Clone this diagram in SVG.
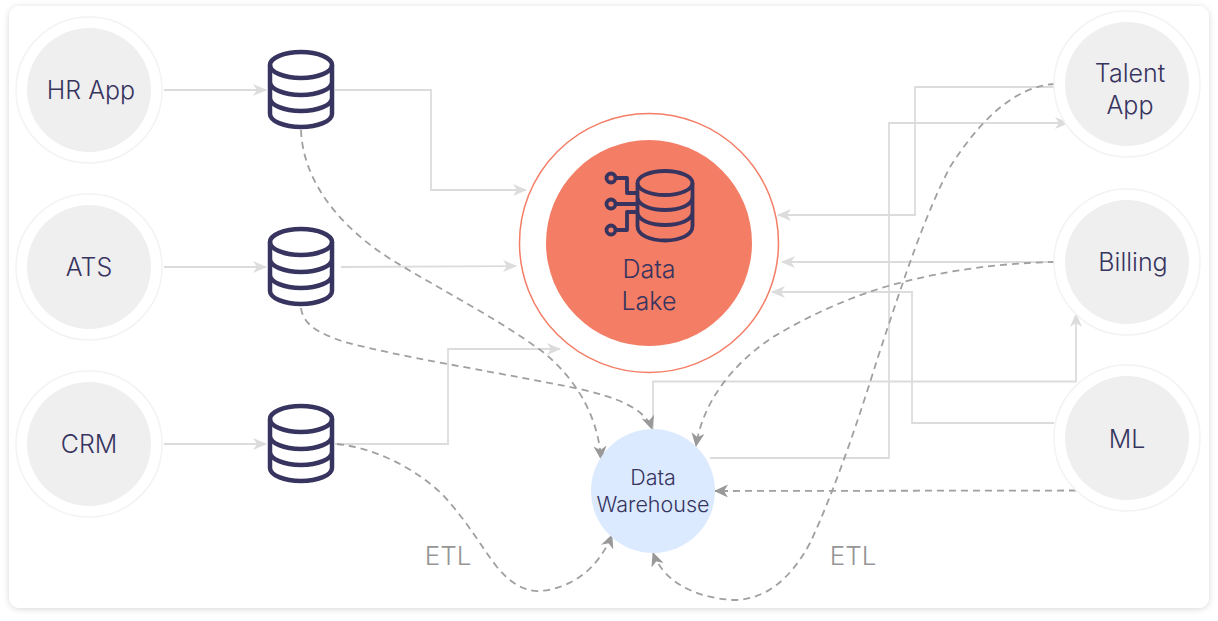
<svg xmlns="http://www.w3.org/2000/svg" xmlns:xlink="http://www.w3.org/1999/xlink" width="1218" height="621" viewBox="0 0 1218 621">
<style>
text{font-family:"Inter","Noto Sans",sans-serif;font-weight:300;fill:#37345f;text-anchor:middle}
.lab{font-size:25px}
.solid{fill:none;stroke:#dcdcdc;stroke-width:1.800;marker-end:url(#ah)}
.dash{fill:none;stroke:#a0a0a0;stroke-width:1.800;stroke-dasharray:7 5;marker-end:url(#dh)}
.outer{fill:#fff;stroke:#f3f3f3;stroke-width:1.500}
.inner{fill:#efefef}
.ic{fill:none;stroke:#37345f;stroke-width:4.500}
.etl{font-size:26px;fill:#969696}
</style>
<defs>
<filter id="sh" x="-3%" y="-3%" width="106%" height="108%"><feDropShadow dx="0" dy="1" stdDeviation="3" flood-color="#000" flood-opacity="0.16"/></filter>
<marker id="ah" viewBox="0 0 14 12" refX="13" refY="6" markerWidth="14" markerHeight="12" markerUnits="userSpaceOnUse" orient="auto"><path d="M0 0L14 6L0 12L4 6Z" fill="#dcdcdc"/></marker>
<marker id="dh" viewBox="0 0 14 13" refX="13" refY="6.500" markerWidth="14" markerHeight="13" markerUnits="userSpaceOnUse" orient="auto"><path d="M0 0L14 6.500L0 13L4 6.500Z" fill="#999"/></marker>
<g id="db"><ellipse cx="0" cy="-25" rx="31" ry="13"/><path d="M-31 -25V24C-31 31 -17 37 0 37S31 31 31 24V-25M-31 -8C-31 -1 -17 5 0 5S31 -1 31 -8M-31 8C-31 15 -17 21 0 21S31 15 31 8"/></g>
</defs>
<rect x="9" y="6" width="1200" height="602" rx="11" fill="#fff" filter="url(#sh)"/>
<g id="connectors">
<path class="solid" d="M164 90H266"/>
<path class="solid" d="M164 267H266"/>
<path class="solid" d="M164 444H266"/>
<path class="solid" d="M335 90H431V190H526"/>
<path class="solid" d="M341 267L516 266"/>
<path class="solid" d="M335 444H448V349H560"/>
<path class="solid" d="M1056 87H915V215H778"/>
<path class="solid" d="M1056 262H782"/>
<path class="solid" d="M1054 423H912V292H772"/>
<path class="solid" d="M710 458H889V123H1068"/>
<path class="solid" d="M653 429V381.500H1076V314"/>
<path class="dash" d="M301 130C303 185 345 232 397 263C445 292 500 320 543 352C575 378 598 415 601 459"/>
<path class="dash" d="M301 308C303 325 320 334 345 342C400 357 480 369 580 389C615 397 645 408 652 429"/>
<path class="dash" d="M337 444C375 448 415 468 443 495C470 525 480 545 497 567C510 583 525 592 540 591C575 588 600 565 612 535"/>
<path class="dash" d="M1055 84C1015 86 980 120 950 167C925 215 905 275 877 360C860 415 835 490 810 543C790 580 765 600 733 600C700 598 665 585 653 553"/>
<path class="dash" d="M1055 262C1000 263 950 270 903 282C855 294 810 315 773 337C735 362 703 400 696 446"/>
<path class="dash" d="M1076 490.500L715 491"/>
</g>
<g id="hr"><circle class="outer" cx="89" cy="90" r="73"/><circle class="inner" cx="89" cy="90" r="62"/><text class="lab" x="91" y="99">HR App</text></g>
<g id="ats"><circle class="outer" cx="89" cy="267" r="73"/><circle class="inner" cx="89" cy="267" r="62"/><text class="lab" x="89" y="276">ATS</text></g>
<g id="crm"><circle class="outer" cx="89" cy="444" r="73"/><circle class="inner" cx="89" cy="444" r="62"/><text class="lab" x="89" y="453">CRM</text></g>
<g id="talent"><circle class="outer" cx="1127" cy="84" r="73"/><circle class="inner" cx="1127" cy="84" r="62"/><text class="lab" x="1130" y="82">Talent</text><text class="lab" x="1130" y="114">App</text></g>
<g id="billing"><circle class="outer" cx="1127" cy="262" r="73"/><circle class="inner" cx="1127" cy="262" r="62"/><text class="lab" x="1133" y="271">Billing</text></g>
<g id="ml"><circle class="outer" cx="1127" cy="438" r="73"/><circle class="inner" cx="1127" cy="438" r="62"/><text class="lab" x="1127" y="448">ML</text></g>
<g id="db1" class="ic"><use xlink:href="#db" href="#db" x="301" y="90"/></g>
<g id="db2" class="ic"><use xlink:href="#db" href="#db" x="301" y="267"/></g>
<g id="db3" class="ic"><use xlink:href="#db" href="#db" x="301" y="444"/></g>
<g id="lake">
<circle cx="649" cy="243" r="129.500" fill="#fff" stroke="#f47d65" stroke-width="1.500"/>
<circle cx="649" cy="243" r="103" fill="#f47d65"/>
<g fill="none" stroke="#37345f" stroke-width="3.800" stroke-linejoin="round">
<ellipse cx="665" cy="183" rx="27.500" ry="12"/>
<path d="M637.500 183V226C637.500 235 650 240.500 665 240.500S692.500 235 692.500 226V183M637.500 197C637.500 205 650 210 665 210S692.500 205 692.500 197M637.500 212C637.500 220 650 225 665 225S692.500 220 692.500 212"/>
<circle cx="611" cy="178" r="4.500"/><circle cx="611" cy="204" r="4.500"/><circle cx="611" cy="230" r="4.500"/>
<path d="M615.500 178H627V193H637.500M615.500 204H637.500M615.500 230H627V212H637.500"/>
</g>
<text class="lab" x="649" y="278">Data</text><text class="lab" x="649" y="310">Lake</text>
</g>
<g id="warehouse">
<circle cx="653" cy="491" r="62" fill="#dbeafe"/>
<text x="653" y="485" font-size="21.500">Data</text><text x="653" y="512" font-size="21.500">Warehouse</text>
</g>
<text class="etl" x="448" y="565">ETL</text>
<text class="etl" x="853" y="565">ETL</text>
</svg>
